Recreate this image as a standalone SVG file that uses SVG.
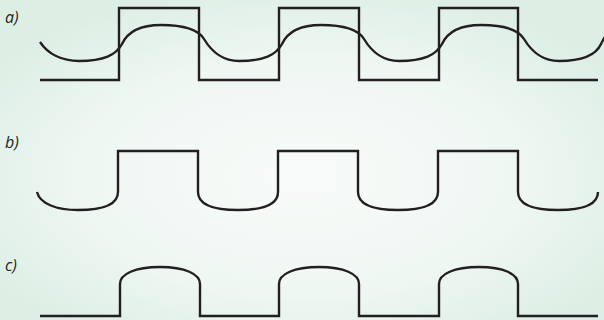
<svg xmlns="http://www.w3.org/2000/svg" width="604" height="320" viewBox="0 0 604 320">
  <defs>
    <radialGradient id="bg" cx="50%" cy="55%" r="60%">
      <stop offset="0" stop-color="#f8fbf9"/>
      <stop offset="0.6" stop-color="#eff7f3"/>
      <stop offset="1" stop-color="#ddefe5"/>
    </radialGradient>
    <style>
      .w { fill: none; stroke: #231f20; stroke-width: 2.4; stroke-linejoin: miter; }
      .lbl { font-family: "Open Sans", "Liberation Sans", sans-serif; font-style: italic; font-size: 16px; fill: #231f20; }
    </style>
  </defs>
  <rect x="0" y="0" width="604" height="320" fill="url(#bg)"/>

  <g id="panel-a">
    <text class="lbl" x="5" y="23">a)</text>
    <path class="w" d="M40,80 H119 V8 H199 V80 H279 V8 H359 V80 H439 V8 H518 V80 H598"/>
    <path class="w" d="M40,42 C48,54 62,61 79,61
      C104,61 116,55 122,44 C128,31 141,25 161,25 C181,25 198,29 204,39 C210,49 221,61 239,61
      C264,61 276,55 282,44 C288,31 301,25 321,25 C341,25 358,29 364,39 C370,49 381,61 399,61
      C424,61 436,55 442,44 C448,31 461,25 481,25 C501,25 518,29 524,39 C530,49 541,61 559,61
      C584,61 596,55 601,44 C603,40 604,38 606,35"/>
  </g>

  <g id="panel-b">
    <text class="lbl" x="5" y="148">b)</text>
    <path class="w" d="M37,192 C40,204 57,210 78,210 C101,210 118,205 118,192 V151 H198 V192
      C198,205 215,210 238,210 C261,210 278,205 278,192 V151 H358 V192
      C358,205 375,210 398,210 C421,210 438,205 438,192 V151 H518 V192
      C518,205 535,210 558,210 C581,210 598,205 598,192"/>
  </g>

  <g id="panel-c">
    <text class="lbl" x="5" y="271">c)</text>
    <path class="w" d="M40,316 H120 V284 C120,274 135,267 160,267 C185,267 200,274 200,284 V316
      H279 V284 C279,274 294,267 319,267 C344,267 359,274 359,284 V316
      H439 V284 C439,274 454,267 479,267 C504,267 518,274 518,284 V316 H598"/>
  </g>
</svg>
